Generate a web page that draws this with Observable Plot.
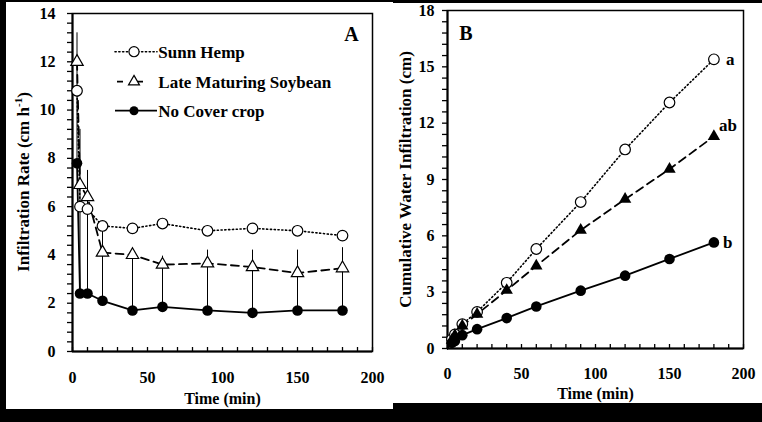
<!DOCTYPE html>
<html>
<head>
<meta charset="utf-8">
<script src="https://cdn.jsdelivr.net/npm/d3@7"></script>
<script src="https://cdn.jsdelivr.net/npm/@observablehq/plot@0.6"></script>
<style>
  html, body { margin: 0; padding: 0; background: #000; width: 762px; height: 422px; overflow: hidden; }
  .panel { position: absolute; background: #fff; }
  #panelA { left: 6px; top: 2px; width: 387px; height: 407px; }
  #panelB { left: 393px; top: 3px; width: 369px; height: 400px; }
</style>
</head>
<body>
<div id="panelA" class="panel"></div>
<div id="panelB" class="panel"></div>
<script>
// Panel A: infiltration rate (cm h-1) over time (min)
const timeA = [3, 5, 10, 20, 40, 60, 90, 120, 150, 180];
const sunnHempA = [10.8, 6.0, 5.9, 5.2, 5.1, 5.3, 5.0, 5.1, 5.0, 4.8];
const soybeanA = [12.0, 6.9, 6.4, 4.1, 4.0, 3.6, 3.65, 3.5, 3.25, 3.45];
const noCoverA = [7.8, 2.4, 2.4, 2.1, 1.7, 1.85, 1.7, 1.6, 1.7, 1.7];
const errorTopA = [13.2, 9.2, 7.5, 5.0, 4.0, 3.95, 4.2, 4.2, 4.2, 4.3];

// Panel B: cumulative water infiltration (cm) over time (min)
const timeB = [0, 3, 5, 10, 20, 40, 60, 90, 120, 150, 180];
const sunnHempB = [0, 0.5, 0.75, 1.3, 1.95, 3.5, 5.3, 7.8, 10.6, 13.1, 15.4];
const soybeanB = [0, 0.45, 0.7, 1.2, 1.83, 3.1, 4.4, 6.3, 7.95, 9.55, 11.3];
const noCoverB = [0, 0.3, 0.4, 0.71, 1.03, 1.62, 2.24, 3.08, 3.88, 4.77, 5.65];
const groupLetters = ["a", "ab", "b"];

const yTicksA = [0, 2, 4, 6, 8, 10, 12, 14];
const yTicksB = [0, 3, 6, 9, 12, 15, 18];
const xTicks = [0, 50, 100, 150, 200];

const serif = '"Liberation Serif", "Times New Roman", serif';
const minorX = d3.range(0, 21).map(i => i * 10);
const minorYA = d3.range(0, 36).map(i => +(i * 0.4).toFixed(1));
const minorYB = d3.range(0, 31).map(i => +(i * 0.6).toFixed(1));

const rowsA = timeA.map((t, i) => ({t, sunn: sunnHempA[i], soy: soybeanA[i], none: noCoverA[i], top: errorTopA[i]}));
const rowsB = timeB.map((t, i) => ({t, sunn: sunnHempB[i], soy: soybeanB[i], none: noCoverB[i]}));
const lastB = rowsB.slice(-1);

const baseStyle = {fontFamily: serif, fontWeight: "bold", fontSize: "16px", background: "white", color: "black"};

const plotA = Plot.plot({
  width: 387, height: 407,
  marginLeft: 66, marginRight: 21, marginTop: 11, marginBottom: 58,
  x: {domain: [0, 200]},
  y: {domain: [0, 14]},
  style: baseStyle,
  marks: [
    Plot.axisY({ticks: minorYA, tickSize: 5, text: null, label: null, strokeWidth: 1.3}),
    Plot.axisY({ticks: yTicksA, tickSize: 0, tickPadding: 17, label: null, fontSize: 16}),
    Plot.axisX({ticks: minorX, tickSize: 4, dy: -4, text: null, label: null, strokeWidth: 1.3}),
    Plot.axisX({ticks: xTicks, tickSize: 0, tickPadding: 20, label: null, fontSize: 16}),
    Plot.frame({strokeWidth: 1.5}),
    Plot.ruleY([0], {strokeWidth: 2}),
    Plot.ruleX([0], {strokeWidth: 2}),
    Plot.ruleX(rowsA, {x: "t", y1: "none", y2: "top", strokeWidth: 1}),
    Plot.line(rowsA, {x: "t", y: "sunn", strokeWidth: 1.6, strokeDasharray: "1.2 2.6", strokeLinecap: "round"}),
    Plot.line(rowsA, {x: "t", y: "soy", strokeWidth: 1.8, strokeDasharray: "8 5"}),
    Plot.line(rowsA, {x: "t", y: "none", strokeWidth: 1.8}),
    Plot.dot(rowsA, {x: "t", y: "sunn", r: 5.3, fill: "white", stroke: "black", strokeWidth: 1.2}),
    Plot.dot(rowsA, {x: "t", y: "soy", symbol: "triangle", r: 4.6, fill: "white", stroke: "black", strokeWidth: 1.2}),
    Plot.dot(rowsA, {x: "t", y: "none", r: 5.3, fill: "black"}),
    Plot.text(["Time (min)"], {frameAnchor: "bottom", dy: 47, fontSize: 16, lineAnchor: "middle"}),
    Plot.text(["A"], {frameAnchor: "top-right", dx: -21, dy: 21, textAnchor: "middle", lineAnchor: "middle", fontSize: 20})
  ]
});
document.getElementById("panelA").append(plotA);

// Y title with superscript, and the series legend
const svgA = d3.select(plotA);
const titleA = svgA.append("text")
  .attr("transform", "translate(19,180) rotate(-90)")
  .attr("text-anchor", "middle").attr("dominant-baseline", "middle")
  .attr("font-family", serif).attr("font-weight", "bold").attr("font-size", 17);
titleA.append("tspan").text("Infiltration Rate (cm h");
titleA.append("tspan").attr("font-size", 11).attr("dy", -6).text("-1");
titleA.append("tspan").attr("dy", 6).text(")");

const legendItems = [
  {name: "Sunn Hemp", dash: "1.2 2.6", symbol: d3.symbolCircle, size: 80, fill: "white", stroke: 1.2},
  {name: "Late Maturing Soybean", dash: "6 14", symbol: d3.symbolTriangle, size: 52, fill: "white", stroke: 1.2},
  {name: "No Cover crop", dash: null, symbol: d3.symbolCircle, size: 64, fill: "black", stroke: 0}
];
const legendRowY = [49.7, 79.7, 108.7];
const legend = svgA.append("g").attr("text-anchor", "start");
legendItems.forEach((d, i) => {
  const g = legend.append("g").attr("transform", `translate(0,${legendRowY[i]})`);
  g.append("line").attr("x1", i === 1 ? 111 : 109).attr("x2", 151).attr("stroke", "black")
    .attr("stroke-width", i === 0 ? 1.6 : 1.8)
    .attr("stroke-linecap", i === 0 ? "round" : "butt")
    .attr("stroke-dasharray", d.dash);
  g.append("path").attr("d", d3.symbol(d.symbol, d.size)()).attr("transform", "translate(128,0)")
    .attr("fill", d.fill).attr("stroke", "black").attr("stroke-width", d.stroke);
  g.append("text").attr("x", 152.3).attr("y", 0).attr("dy", "0.35em").attr("text-anchor", "start")
    .attr("font-family", serif).attr("font-weight", "bold").attr("font-size", 17).text(d.name);
});

const plotB = Plot.plot({
  width: 369, height: 400,
  marginLeft: 54, marginRight: 19, marginTop: 7, marginBottom: 55,
  x: {domain: [0, 200]},
  y: {domain: [0, 18]},
  style: baseStyle,
  marks: [
    Plot.axisY({ticks: minorYB, tickSize: 5, text: null, label: null, strokeWidth: 1.3}),
    Plot.axisY({ticks: yTicksB, tickSize: 0, tickPadding: 13, label: null, fontSize: 16}),
    Plot.axisX({ticks: minorX, tickSize: 4, dy: -4, text: null, label: null, strokeWidth: 1.3}),
    Plot.axisX({ticks: xTicks, tickSize: 0, tickPadding: 19, label: null, fontSize: 16}),
    Plot.frame({strokeWidth: 1.5}),
    Plot.ruleY([0], {strokeWidth: 2}),
    Plot.ruleX([0], {strokeWidth: 2}),
    Plot.line(rowsB, {x: "t", y: "sunn", strokeWidth: 1.6, strokeDasharray: "1.2 2.6", strokeLinecap: "round"}),
    Plot.line(rowsB, {x: "t", y: "soy", strokeWidth: 1.8, strokeDasharray: "8 5"}),
    Plot.line(rowsB, {x: "t", y: "none", strokeWidth: 1.8}),
    Plot.dot(rowsB.slice(1), {x: "t", y: "sunn", r: 5.3, fill: "white", stroke: "black", strokeWidth: 1.2}),
    Plot.dot(rowsB.slice(1), {x: "t", y: "soy", symbol: "triangle", r: 4.6, fill: "black"}),
    Plot.dot(rowsB.slice(1), {x: "t", y: "none", r: 5.3, fill: "black"}),
    Plot.text(lastB, {x: "t", y: "sunn", text: () => groupLetters[0], dx: 12, textAnchor: "start", lineAnchor: "middle", fontSize: 17}),
    Plot.text(lastB, {x: "t", y: "soy", text: () => groupLetters[1], dx: 5, dy: -11, textAnchor: "start", lineAnchor: "middle", fontSize: 17}),
    Plot.text(lastB, {x: "t", y: "none", text: () => groupLetters[2], dx: 9, textAnchor: "start", lineAnchor: "middle", fontSize: 17}),
    Plot.text(["Cumulative Water Infiltration (cm)"], {frameAnchor: "left", dx: -42, rotate: -90, textAnchor: "middle", lineAnchor: "middle", fontSize: 17}),
    Plot.text(["Time (min)"], {frameAnchor: "bottom", dy: 45, fontSize: 16, lineAnchor: "middle"}),
    Plot.text(["B"], {frameAnchor: "top-left", dx: 18.5, dy: 23.5, textAnchor: "middle", lineAnchor: "middle", fontSize: 20})
  ]
});
document.getElementById("panelB").append(plotB);
</script>
</body>
</html>
